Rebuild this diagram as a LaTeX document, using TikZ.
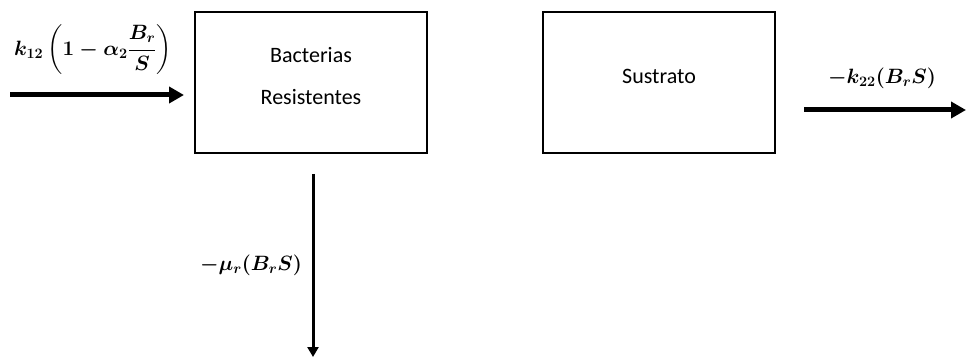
\documentclass[tikz,border=0pt]{standalone}
\usepackage{amsmath}
\usepackage{fontspec}
\setmainfont{Carlito}
\usetikzlibrary{arrows.meta, positioning}
\tikzset{
  every picture/.style={line width=2pt},
  box/.style={draw=black, minimum width=232pt, minimum height=141pt, inner sep=0pt},
  boxtext/.style={font=\fontsize{22}{26}\selectfont, align=center},
  flow/.style={-{Triangle[length=15pt, width=16pt]}, line width=5pt},
  thinflow/.style={-{Triangle[length=10pt, width=11pt]}, line width=3pt},
  rate/.style={font=\fontsize{22}{26}\selectfont\boldmath, inner sep=0pt},
}
\begin{document}
\begin{tikzpicture}[x=1pt, y=-1pt]
  \useasboundingbox (0,0) rectangle (966,358);
  \node[box] (bac) at (311,82.5) {};
  \node[boxtext] (bactxt) at (311,76.5) {Bacterias\\[16pt]Resistentes};
  \node[box] (sus) at (659,82.5) {};
  \node[boxtext] (sustxt) at (659,76.5) {Sustrato};
  \coordinate (in) at (10,95);
  \coordinate (out) at (966,110);
  \coordinate (down) at (313,357);
  \draw[flow] (in) -- ([xshift=-10pt]bac.west |- in);
  \draw[flow] ([xshift=28pt]sus.east |- out) -- (out);
  \draw[thinflow] ([yshift=-20pt]bac.south -| down) -- (down);
  \node[rate] (kin) at (93,50) {$k_{12}\left(1-\alpha_2\dfrac{B_r}{S}\right)$};
  \node[rate] (kout) at (882,78) {$-k_{22}(B_rS)$};
  \node[rate, anchor=east] (mu) at (303,265) {$-\mu_r(B_rS)$};
\end{tikzpicture}
\end{document}
